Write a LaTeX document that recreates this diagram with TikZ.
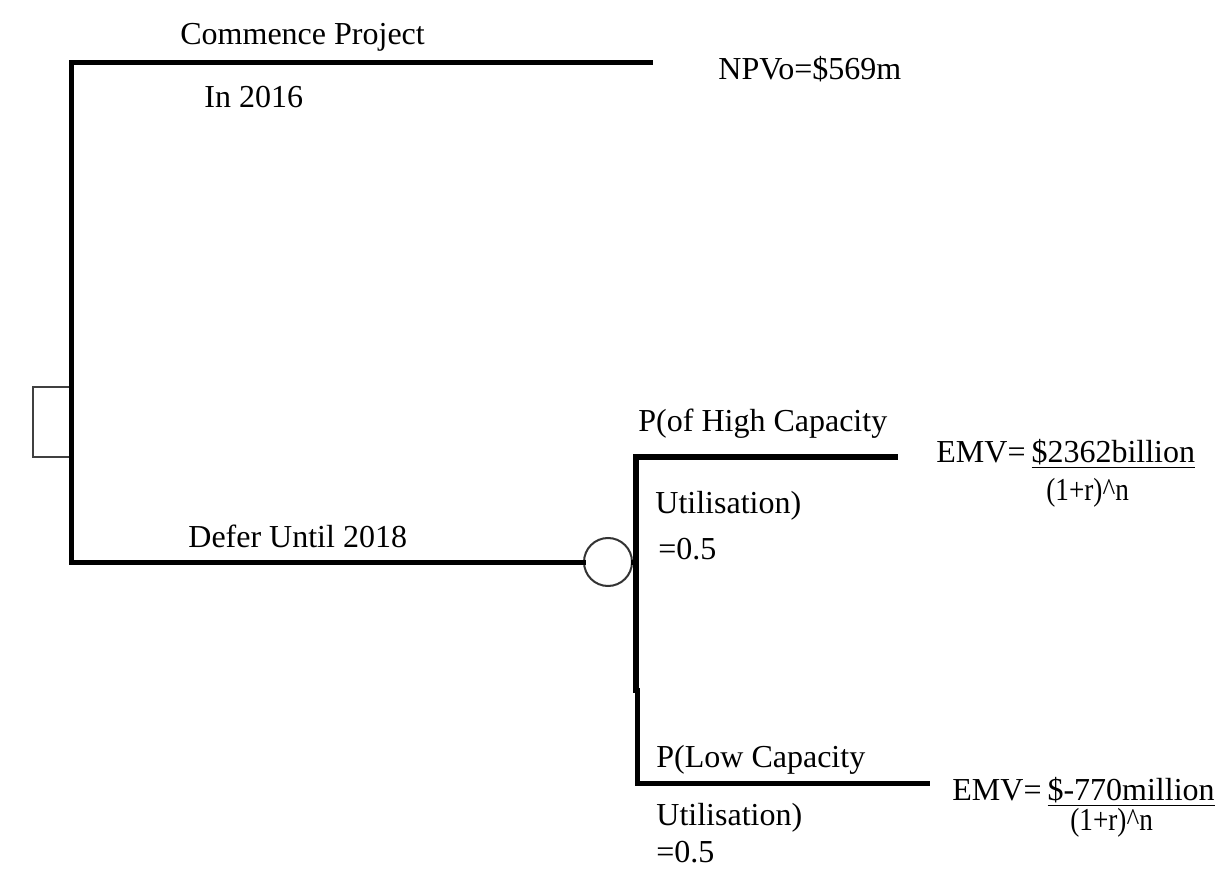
\documentclass[tikz,border=0pt]{standalone}
\usepackage{fontspec}
\setmainfont{Liberation Serif}
\usetikzlibrary{positioning}
\newcommand{\emvfrac}{\scalebox{0.85}[1]{(1+r)\textasciicircum n}}
\tikzset{
  every picture/.style={line cap=rect, line join=miter},
  branch/.style={line width=2.5pt},
  lbl/.style={anchor=base west, inner sep=0pt},
  % decision and chance nodes
  decision/.style={draw=black!75, line width=1pt, minimum width=18.5pt, minimum height=34.5pt, inner sep=0pt},
  chance/.style={circle, draw=black!80, line width=1pt, fill=white, minimum size=24pt, inner sep=0pt},
}
\begin{document}
\begin{tikzpicture}[x=0.5pt, y=-0.5pt, font=\fontsize{16}{19}\selectfont]
  \useasboundingbox (0,0) rectangle (1215,887);
  % decision node and its two options
  \node[decision] (dec) at (51.5,422) {};
  \coordinate (npvEnd) at (650,63);
  \node[chance] (defer) at (608,562) {};
  \draw[branch] (npvEnd) -| (dec.east) |- (defer.west);
  \node[lbl] (commence) at (180,45) {Commence Project};
  \node[lbl] (in2016) at (204,108) {In 2016};
  \node[lbl] (npv) at (718,80) {NPVo=\$569m};
  \node[lbl] (deferLbl) at (188,547) {Defer Until 2018};
  % chance node: high / low capacity utilisation
  \coordinate (fork) at (636,562);
  \coordinate (hiEnd) at (895,457);
  \coordinate (loEnd) at (927,783);
  \draw[branch] (defer.east) -- (fork);
  \draw[branch, line width=3pt] (hiEnd) -| (fork) -- (636,690);
  \draw[branch] (637,690) |- (loEnd);
  \node[lbl] (hiP) at (638,431) {P(of High Capacity};
  \node[lbl] (hiU) at (655,513) {Utilisation)};
  \node[lbl] (hiV) at (658,559) {=0.5};
  \node[lbl] (hiEmv) at (936,462) {EMV=\hspace{3pt}\underline{\$2362billion}};
  \node[lbl] (hiDen) at (1046,500) {\emvfrac};
  \node[lbl] (loP) at (656,767) {P(Low Capacity};
  \node[lbl] (loU) at (656,825) {Utilisation)};
  \node[lbl] (loV) at (656,862) {=0.5};
  \node[lbl] (loEmv) at (952,800) {EMV=\hspace{3pt}\underline{\$-770million}};
  \node[lbl] (loDen) at (1070,830) {\emvfrac};
\end{tikzpicture}
\end{document}
